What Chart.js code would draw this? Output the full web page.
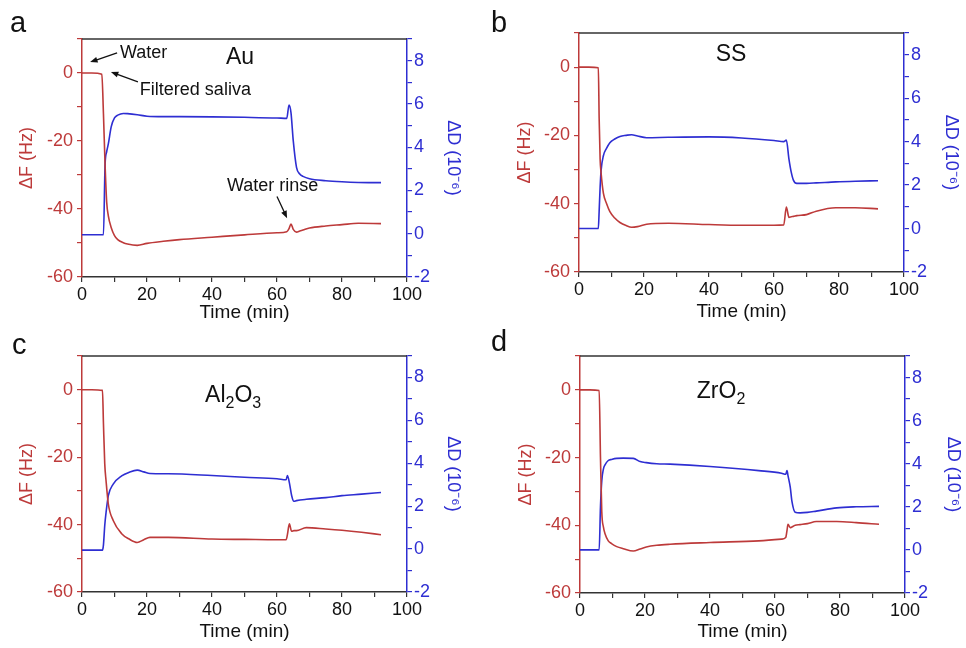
<!DOCTYPE html>
<html lang="en">
<head>
<meta charset="UTF-8">
<title>QCM-D saliva adsorption</title>
<script src="https://cdn.jsdelivr.net/npm/chart.js"></script>
<style>
  body { margin: 0; background: #fff; }
  #wrap { position: relative; width: 966px; height: 648px; }
  #wrap canvas { position: absolute; }
</style>
</head>
<body>
<div id="wrap">
  <canvas id="chartA" width="483" height="324" style="left:0;top:0"></canvas>
  <canvas id="chartB" width="483" height="324" style="left:483px;top:0"></canvas>
  <canvas id="chartC" width="483" height="324" style="left:0;top:324px"></canvas>
  <canvas id="chartD" width="483" height="324" style="left:483px;top:324px"></canvas>
</div>
<script>
// tick labels
const timeLabels = [0, 20, 40, 60, 80, 100];
const fLabels = [-60, -40, -20, 0];
const dLabels = [-2, 0, 2, 4, 6, 8];

// Au
const auTime = [0, 3, 6.1, 6.6, 7.1, 7.6, 8.1, 9, 10, 11, 12.7, 14, 17, 20, 25, 30, 40, 50, 60, 63, 63.7, 64.3, 65, 66, 67, 68, 70, 75, 80, 85, 92];
const auF = [0, 0, -0.4, -12, -27, -38, -42, -45.5, -47.8, -49, -49.9, -50.3, -50.7, -50.1, -49.5, -49, -48.3, -47.6, -47, -46.7, -45.8, -44.4, -46, -46.8, -46.5, -46.2, -45.6, -45, -44.6, -44.2, -44.3];
const auD = [-0.05, -0.05, -0.05, -0.05, 3.2, 3.8, 4.15, 4.95, 5.35, 5.48, 5.56, 5.55, 5.5, 5.43, 5.41, 5.41, 5.4, 5.38, 5.35, 5.33, 5.95, 5.6, 4.3, 3.07, 2.76, 2.65, 2.54, 2.45, 2.4, 2.37, 2.36];

// SS
const ssTime = [0, 3, 5.95, 6.2, 6.5, 6.8, 7.5, 8.5, 9.5, 11, 12.6, 14.5, 16.2, 18, 20.8, 27.5, 40, 50, 60, 63, 63.8, 64.6, 65.3, 66, 67, 70, 73, 79, 85, 92];
const ssF = [0, 0, -0.2, -15, -27, -31, -36.9, -40, -42.3, -44.2, -45.5, -46.4, -46.9, -46.7, -46, -45.7, -46.1, -46.3, -46.3, -46.2, -41, -44, -43.8, -43.7, -43.5, -43.2, -42.2, -41.2, -41.2, -41.5];
const ssD = [0, 0, 0, 0.8, 1.9, 2.68, 3.35, 3.7, 3.95, 4.12, 4.24, 4.29, 4.32, 4.26, 4.18, 4.2, 4.22, 4.17, 4.05, 4.0, 4.07, 3.2, 2.6, 2.22, 2.08, 2.08, 2.1, 2.15, 2.18, 2.2];

// Al2O3
const alTime = [0, 3, 6.3, 6.6, 7.0, 7.4, 8.1, 9.6, 12.2, 14.5, 17, 19, 20.9, 26.5, 40, 50, 60, 62.8, 63.2, 63.8, 64.5, 65.2, 66, 69, 75, 80, 86, 92];
const alF = [0, 0, -0.2, -10, -22, -27, -33.9, -38.8, -42.7, -44.3, -45.3, -44.5, -43.8, -43.8, -44.3, -44.4, -44.5, -44.5, -43, -39.8, -42, -41.8, -41.8, -40.9, -41.3, -41.7, -42.3, -43];
const alD = [-0.05, -0.05, -0.05, 0.2, 1.1, 1.7, 2.49, 3.03, 3.41, 3.58, 3.68, 3.6, 3.52, 3.51, 3.43, 3.35, 3.28, 3.23, 3.43, 3.1, 2.5, 2.23, 2.26, 2.32, 2.4, 2.49, 2.56, 2.64];

// ZrO2
const zrTime = [0, 3, 5.9, 6.3, 6.7, 7.2, 7.7, 8.7, 9.7, 11.3, 13.3, 16.4, 18.5, 20.4, 23.6, 27.7, 40, 55, 62, 63.3, 63.7, 64, 64.7, 65.2, 66.2, 67.7, 70, 72.7, 79, 85, 92];
const zrF = [0, 0, -0.2, -20, -36, -40.5, -42.5, -44.6, -45.4, -46.3, -46.9, -47.6, -47, -46.4, -45.9, -45.6, -45.1, -44.6, -44.1, -43.6, -41.5, -39.7, -40.7, -40.5, -40, -39.8, -39.5, -38.9, -38.9, -39.2, -39.7];
const zrD = [0, 0, 0, 2.0, 3.2, 3.75, 3.95, 4.15, 4.2, 4.25, 4.26, 4.25, 4.1, 4.05, 4.0, 3.98, 3.87, 3.68, 3.56, 3.51, 3.68, 3.45, 2.9, 2.26, 1.75, 1.72, 1.74, 1.8, 1.95, 2.0, 2.02];

const RED = '#bd3a3a';
const BLUE = '#2e2ed2';
Chart.defaults.font.family = 'Arial, "Liberation Sans", sans-serif';

// annotation labels for panel a, in data units (time, ΔF)
const auNotes = [
  { text: 'Water', at: [11.7, 5.9], tail: [10.8, 5.9], tip: [2.5, 3.2] },
  { text: 'Filtered saliva', at: [17.8, -5], tail: [17.2, -2.6], tip: [8.9, 0.3] },
  { text: 'Water rinse', at: [44.6, -33.1], tail: [60, -36.3], tip: [63.1, -42.7] }
];

const panels = [
  { id: 'chartA', letter: 'a', letterPos: [10, 32], title: 'Au', titleAt: [48.6, 4.4], time: auTime, f: auF, d: auD, notes: auNotes,
    box: { top: 39, left: 82, right: 76, bottom: 47 }, pad: { l: 16, r: 19, b: 0 } },
  { id: 'chartB', letter: 'b', letterPos: [8, 32], title: 'SS', titleAt: [46.8, 3.8], time: ssTime, f: ssF, d: ssD, notes: [],
    box: { top: 33, left: 96, right: 62, bottom: 52 }, pad: { l: 31, r: 4, b: 1 } },
  { id: 'chartC', letter: 'c', letterPos: [12, 30], title: 'Al2O3', titleAt: [46.5, -1.8], time: alTime, f: alF, d: alD, notes: [],
    box: { top: 32, left: 82, right: 76, bottom: 56 }, pad: { l: 16, r: 19, b: 5 } },
  { id: 'chartD', letter: 'd', letterPos: [8, 27], title: 'ZrO2', titleAt: [43.4, -0.6], time: zrTime, f: zrF, d: zrD, notes: [],
    box: { top: 32, left: 97, right: 61, bottom: 55 }, pad: { l: 32, r: 2, b: 5 } }
];

function drawFormula(ctx, text, cx, cy, size) {
  const parts = text.split(/(\d+)/).filter(s => s.length);
  const big = size + 'px Arial, "Liberation Sans", sans-serif';
  const small = Math.round(size * 0.68) + 'px Arial, "Liberation Sans", sans-serif';
  let total = 0;
  parts.forEach(p => { ctx.font = /\d/.test(p) ? small : big; total += ctx.measureText(p).width; });
  let x = cx - total / 2;
  ctx.textAlign = 'left';
  ctx.textBaseline = 'middle';
  parts.forEach(p => {
    const sub = /\d/.test(p);
    ctx.font = sub ? small : big;
    ctx.fillText(p, x, sub ? cy + size * 0.32 : cy);
    x += ctx.measureText(p).width;
  });
}

function drawArrow(ctx, x1, y1, x2, y2) {
  const a = Math.atan2(y2 - y1, x2 - x1);
  const h = 8;
  ctx.beginPath();
  ctx.moveTo(x1, y1);
  ctx.lineTo(x2 - Math.cos(a) * 4, y2 - Math.sin(a) * 4);
  ctx.stroke();
  ctx.beginPath();
  ctx.moveTo(x2, y2);
  ctx.lineTo(x2 - h * Math.cos(a - 0.38), y2 - h * Math.sin(a - 0.38));
  ctx.lineTo(x2 - h * Math.cos(a + 0.38), y2 - h * Math.sin(a + 0.38));
  ctx.closePath();
  ctx.fill();
}

const panelText = {
  id: 'panelText',
  afterDraw(chart, args, opts) {
    const p = opts.panel;
    const { ctx, chartArea } = chart;
    const xs = chart.scales.x, ys = chart.scales.yF;
    ctx.save();
    // top frame line
    ctx.strokeStyle = '#333';
    ctx.lineWidth = 1.5;
    ctx.beginPath();
    ctx.moveTo(chartArea.left, chartArea.top);
    ctx.lineTo(chartArea.right, chartArea.top);
    ctx.stroke();

    ctx.fillStyle = '#111';
    ctx.font = '29px Arial, "Liberation Sans", sans-serif';
    ctx.textAlign = 'left';
    ctx.textBaseline = 'alphabetic';
    ctx.fillText(p.letter, p.letterPos[0], p.letterPos[1]);

    drawFormula(ctx, p.title, xs.getPixelForValue(p.titleAt[0]), ys.getPixelForValue(p.titleAt[1]), 23);

    ctx.strokeStyle = '#111';
    ctx.lineWidth = 1.3;
    p.notes.forEach(n => {
      ctx.font = '18px Arial, "Liberation Sans", sans-serif';
      ctx.textAlign = 'left';
      ctx.textBaseline = 'middle';
      ctx.fillText(n.text, xs.getPixelForValue(n.at[0]), ys.getPixelForValue(n.at[1]));
      drawArrow(ctx,
        xs.getPixelForValue(n.tail[0]), ys.getPixelForValue(n.tail[1]),
        xs.getPixelForValue(n.tip[0]), ys.getPixelForValue(n.tip[1]));
    });
    ctx.restore();
  }
};

function makeChart(p) {
  const tickFont = { size: 18 };
  new Chart(document.getElementById(p.id), {
    type: 'line',
    data: {
      datasets: [
        { label: 'ΔF', data: p.time.map((t, i) => ({ x: t, y: p.f[i] })), yAxisID: 'yF',
          borderColor: RED, borderWidth: 1.6, pointRadius: 0, cubicInterpolationMode: 'monotone' },
        { label: 'ΔD', data: p.time.map((t, i) => ({ x: t, y: p.d[i] })), yAxisID: 'yD',
          borderColor: BLUE, borderWidth: 1.6, pointRadius: 0, cubicInterpolationMode: 'monotone' }
      ]
    },
    options: {
      responsive: false,
      animation: false,
      layout: { padding: { top: p.box.top, left: 0, right: 0, bottom: 0 } },
      plugins: { legend: { display: false }, tooltip: { enabled: false }, panelText: { panel: p } },
      scales: {
        x: {
          type: 'linear', min: 0, max: 100,
          ticks: { stepSize: 10, autoSkip: false, maxRotation: 0, padding: 2, color: '#111', font: tickFont,
            callback: v => timeLabels.includes(v) ? String(v) : '' },
          grid: { drawOnChartArea: false, tickLength: 5, color: '#333', lineWidth: 1.2 },
          border: { color: '#333', width: 1.5 },
          title: { display: true, text: 'Time (min)', color: '#111', font: { size: 19 }, padding: { top: 0, bottom: p.pad.b } },
          afterFit: s => { s.height = p.box.bottom; }
        },
        yF: {
          position: 'left', min: -60, max: 10,
          ticks: { stepSize: 10, autoSkip: false, padding: 4, color: RED, font: tickFont,
            callback: v => fLabels.includes(v) ? String(v) : '' },
          grid: { drawOnChartArea: false, tickLength: 5, color: RED, lineWidth: 1.2 },
          border: { color: RED, width: 1.5 },
          title: { display: true, text: 'ΔF (Hz)', color: RED, font: { size: 18 }, padding: { top: p.pad.l, bottom: 0 } },
          afterFit: s => { s.width = p.box.left; }
        },
        yD: {
          position: 'right', min: -2, max: 9,
          ticks: { stepSize: 1, autoSkip: false, padding: 2, color: BLUE, font: tickFont,
            callback: v => dLabels.includes(v) ? String(v) : '' },
          grid: { drawOnChartArea: false, tickLength: 5, color: BLUE, lineWidth: 1.2 },
          border: { color: BLUE, width: 1.5 },
          title: { display: true, text: 'ΔD (10⁻⁶)', color: BLUE, font: { size: 18 }, padding: { top: p.pad.r, bottom: 0 } },
          afterFit: s => { s.width = p.box.right; }
        }
      }
    },
    plugins: [panelText]
  });
}

panels.forEach(makeChart);
</script>
</body>
</html>
